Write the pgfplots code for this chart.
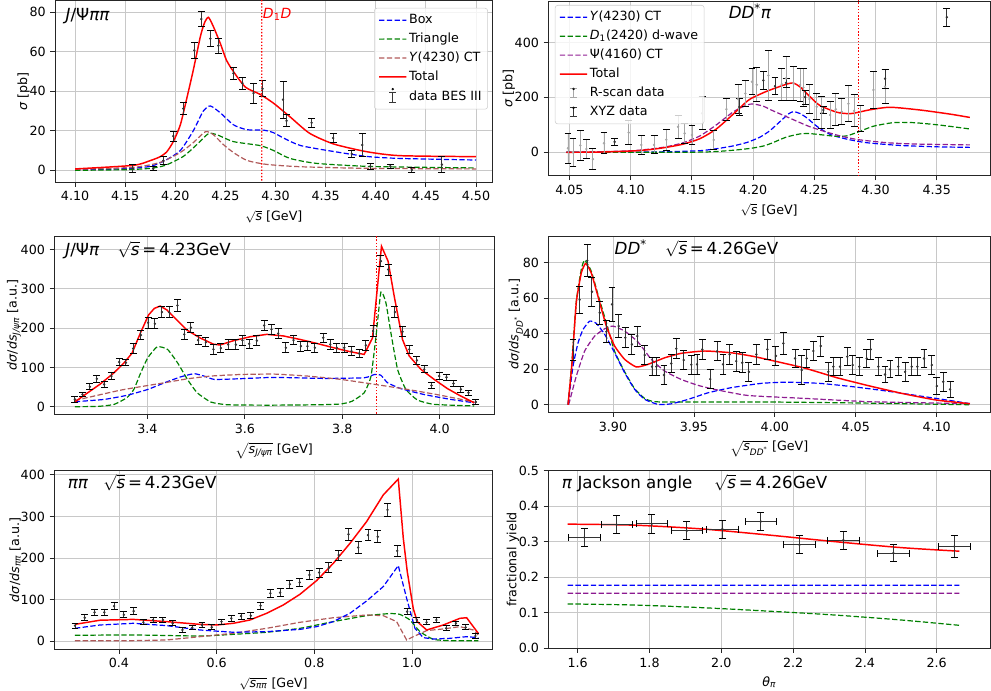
\documentclass[border=0pt]{standalone}
\usepackage{fontspec}
\setmainfont{DejaVu Sans}
\usepackage{pgfplots}
\pgfplotsset{compat=1.18}

\definecolor{cblue}{HTML}{0000FF}
\definecolor{cgreen}{HTML}{008000}
\definecolor{cbrown}{HTML}{B05A5A}
\definecolor{cpurple}{HTML}{8E1C92}
\definecolor{cdata}{HTML}{333333}
\definecolor{cgrey}{HTML}{A6A6A6}
\definecolor{cframe}{HTML}{262626}
\definecolor{cgrid}{HTML}{C8C8C8}
% slightly shifted shades for legend images and single reference lines
\definecolor{lblue}{HTML}{0303FE}
\definecolor{lgreen}{HTML}{038203}
\definecolor{lbrown}{HTML}{B25C5C}
\definecolor{lpurple}{HTML}{901E94}
\definecolor{lred}{HTML}{FE0303}
\definecolor{ldata}{HTML}{363636}
\definecolor{lgrey}{HTML}{A8A8A8}
\definecolor{vred}{HTML}{FD0101}
\definecolor{hblue}{HTML}{0505FC}
\definecolor{hpurple}{HTML}{8C1A90}

\newcommand{\tf}{\fontsize{9.5}{11}\selectfont}
\newcommand{\ttl}{\fontsize{12.5}{14}\selectfont}

\pgfplotsset{
  panel/.style={
    scale only axis, anchor=south west,
    axis line style={draw=cframe, line width=0.6pt},
    tick align=outside, tick pos=left,
    major tick length=3.5pt, tick style={draw=cframe, line width=0.6pt},
    grid=major, major grid style={draw=cgrid, line width=0.6pt},
    tick label style={font=\tf},
    label style={font=\tf},
    ylabel shift=-7pt,
    legend cell align=left,
    legend style={font=\tf, draw=black!20, rounded corners=2pt, fill=white,
      fill opacity=0.8, text opacity=1,
      nodes={text height=7pt, text depth=2pt, inner sep=1.5pt},
      row sep=2.2pt, inner xsep=3pt, inner ysep=3pt},
    legend image code/.code={\draw[##1] (0cm,0cm) -- (0.36cm,0.02pt) -- (0.72cm,0cm);},
  },
  cdash/.style={dash pattern=on 4pt off 1.8pt, line width=0.9pt},
  ctot/.style={draw=red, line width=1.1pt},
  dleg/.style={legend image code/.code={\draw[draw=#1, line width=0.7pt] (0.36cm,-0.13cm) -- (0.36cm,0.13cm) (0.27cm,-0.13cm) -- (0.45cm,-0.13cm) (0.27cm,0.13cm) -- (0.45cm,0.13cm); \fill[fill=#1] (0.36cm,0) circle (0.7pt);}},
  edat/.style={only marks, mark=*, mark size=0.7pt, draw=#1, fill=#1,
    error bars/.cd, y dir=both, y explicit,
    error bar style={line width=0.7pt},
    error mark options={rotate=90, line width=0.7pt, mark size=2.6pt}},
  vthr/.style={draw=#1, line width=0.9pt, dash pattern=on 1pt off 1.4pt, forget plot},
}

\begin{document}
\begin{tikzpicture}
\useasboundingbox (0,0) rectangle (743.25pt,518.25pt);

% ---------------- top left: J/psi pi pi
\begin{axis}[panel, at={(41.25pt,381.75pt)}, width=328.3pt, height=136pt,
  xmin=4.080, xmax=4.5167, ymin=-5.9, ymax=85.7,
  xtick={4.10,4.15,4.20,4.25,4.30,4.35,4.40,4.45,4.50},
  xticklabels={4.10,4.15,4.20,4.25,4.30,4.35,4.40,4.45,4.50},
  ytick={0,20,40,60,80}, yticklabels={0,20,40,60,80},
  xlabel={$\sqrt{\mbox{\itshape s}}$ [GeV]}, ylabel={\textit{σ} [pb]},
  legend style={at={(0.989,0.96)}, anchor=north east}]
\addplot[forget plot, draw=cblue, cdash, smooth, tension=0.4] coordinates {(4.10,0.2) (4.15,0.8) (4.175,2) (4.19,5) (4.205,10) (4.218,20) (4.228,30) (4.235,32.5) (4.245,29) (4.258,23) (4.2715,20.5) (4.288,20.3) (4.298,19) (4.308,16.3) (4.325,12.5) (4.358,9.5) (4.391,7) (4.424,6) (4.50,5.2)};
\addplot[forget plot, draw=cgreen, cdash, smooth, tension=0.4] coordinates {(4.10,0) (4.15,0.3) (4.175,1) (4.19,2.5) (4.208,7) (4.2215,13) (4.233,18.5) (4.2415,18) (4.258,14.5) (4.2845,12.5) (4.298,10) (4.3145,6) (4.341,3.5) (4.391,2) (4.45,1.5) (4.50,1.2)};
\addplot[forget plot, draw=cbrown, cdash, smooth, tension=0.4] coordinates {(4.10,0.5) (4.158,1.5) (4.185,4) (4.205,9) (4.218,14) (4.23,19.5) (4.238,18) (4.248,13) (4.258,9) (4.2715,5) (4.291,3) (4.325,1.8) (4.391,1.0) (4.50,0.7)};
\addplot[forget plot, ctot, smooth, tension=0.4] coordinates {(4.10,0.7) (4.158,2.5) (4.175,4.9) (4.185,6.9) (4.1916,9.4) (4.198,14.5) (4.205,22.9) (4.2115,36.4) (4.218,50.7) (4.225,67.5) (4.229,74.3) (4.233,77.3) (4.238,72.6) (4.245,64) (4.251,55.7) (4.258,49.9) (4.27,42) (4.2845,38.4) (4.298,33.9) (4.3145,27) (4.334,18.7) (4.358,13.3) (4.391,9.4) (4.424,7.4) (4.50,6.9)};
\addplot[forget plot, edat=cdata] coordinates {
(4.1575,1) +- (0,2) (4.178,0.8) +- (0,1) (4.188,4.9) +- (0,2) (4.198,17.3) +- (0,2.5)
(4.208,31.2) +- (0,3) (4.219,60.6) +- (0,4) (4.226,76.4) +- (0,3.8) (4.235,66.5) +- (0,4)
(4.243,63) +- (0,3.8) (4.258,49) +- (0,2.9) (4.267,44) +- (0,3) (4.278,39) +- (0,5)
(4.287,41.2) +- (0,4) (4.3075,35.7) +- (0,9.4) (4.311,25) +- (0,3) (4.336,24) +- (0,2.3)
(4.3575,16.3) +- (0,2.4) (4.376,8.3) +- (0,1.7) (4.3865,12.8) +- (0,5.9) (4.3945,2) +- (0,1.5)
(4.4145,2.1) +- (0,1.1) (4.436,0.2) +- (0,1.3) (4.466,2.9) +- (0,4)};
\addplot[vthr=vred] coordinates {(4.2863,-10) (4.28632,45) (4.2863,100)};
\addlegendimage{draw=lblue, cdash}\addlegendentry{Box}
\addlegendimage{draw=lgreen, cdash}\addlegendentry{Triangle}
\addlegendimage{draw=lbrown, cdash}\addlegendentry{\textit{Y}(4230) CT}
\addlegendimage{draw=lred, line width=1.1pt}\addlegendentry{Total}
\addlegendimage{dleg=ldata}\addlegendentry{data BES III}
\node[anchor=base west, font=\ttl] at (rel axis cs:0.0137,0.89) {\textit{J}/Ψ\textit{ππ}};
\node[anchor=base west, font=\fontsize{10.5}{12}\selectfont, text=red, inner sep=0pt] at (rel axis cs:0.4745,0.903) {\textit{D}\textsubscript{1}\textit{D}};
\end{axis}

% ---------------- top right: D D* pi
\begin{axis}[panel, at={(411.2pt,386.5pt)}, width=331.3pt, height=131pt,
  xmin=4.0327, xmax=4.3935, ymin=-85, ymax=551,
  xtick={4.05,4.10,4.15,4.20,4.25,4.30,4.35},
  xticklabels={4.05,4.10,4.15,4.20,4.25,4.30,4.35},
  ytick={0,200,400}, yticklabels={0,200,400},
  xlabel={$\sqrt{\mbox{\itshape s}}$ [GeV]}, ylabel={\textit{σ} [pb]},
  legend style={at={(0.015,0.977)}, anchor=north west}]
\addplot[vthr=red] coordinates {(4.2863,-100) (4.2863,600)};
\addplot[forget plot, draw=cblue, cdash, smooth, tension=0.4] coordinates {(4.0475,0) (4.10,0.5) (4.13,2) (4.1567,6) (4.17,13) (4.1834,23) (4.195,36) (4.2055,55) (4.2135,78) (4.222,112) (4.229,140) (4.2330,148) (4.2384,141) (4.2440,125) (4.252,95) (4.263,65) (4.2765,48) (4.2928,35) (4.32,25) (4.35,20) (4.377,18)};
\addplot[forget plot, draw=cgreen, cdash, smooth, tension=0.4] coordinates {(4.0475,0) (4.15,0.5) (4.17,3) (4.185,8) (4.199,15) (4.2084,23) (4.2150,33) (4.2269,55) (4.2384,67) (4.2465,68) (4.2574,63) (4.2683,58) (4.2765,60) (4.2846,72) (4.2983,95) (4.3146,108) (4.3310,108) (4.3528,99) (4.377,85)};
\addplot[forget plot, draw=cpurple, cdash, smooth, tension=0.4] coordinates {(4.0475,0) (4.075,2) (4.102,6) (4.116,12) (4.129,20) (4.143,35) (4.1567,60) (4.170,100) (4.184,148) (4.1948,172) (4.200,176) (4.2084,168) (4.2138,156) (4.2302,124) (4.2465,93) (4.2683,63) (4.2846,47) (4.3092,35) (4.3337,30) (4.377,27)};
\addplot[forget plot, ctot, smooth, tension=0.4] coordinates {(4.0475,0) (4.075,1) (4.102,5) (4.1158,10) (4.129,18) (4.143,30) (4.1567,50) (4.170,85) (4.184,140) (4.1948,185) (4.200,200) (4.211,222) (4.222,240) (4.2288,250) (4.2330,252) (4.2384,238) (4.2470,200) (4.2547,170) (4.2683,146) (4.2765,141) (4.2820,142) (4.2956,155) (4.312,164) (4.3365,154) (4.361,139) (4.377,127)};
\addplot[forget plot, edat=cgrey] coordinates {
(4.0488,15) +- (0,55) (4.0529,0) +- (0,52) (4.0589,25) +- (0,55) (4.0638,12) +- (0,35)
(4.0692,-25) +- (0,38) (4.0782,33) +- (0,38) (4.0984,72) +- (0,45) (4.1087,27) +- (0,36)
(4.1191,27) +- (0,33) (4.1291,46) +- (0,38) (4.1387,93) +- (0,42) (4.1441,69) +- (0,36)
(4.1501,63) +- (0,36) (4.1583,142) +- (0,60) (4.1678,45) +- (0,36) (4.1782,157) +- (0,40)
(4.1877,194) +- (0,52) (4.1937,214) +- (0,48) (4.1991,257) +- (0,48) (4.2030,246) +- (0,62)
(4.2125,280) +- (0,90) (4.2234,248) +- (0,58) (4.2269,269) +- (0,79) (4.2329,251) +- (0,61)
(4.2384,245) +- (0,61) (4.2411,236) +- (0,70) (4.2460,194) +- (0,52) (4.2520,166) +- (0,48)
(4.2561,145) +- (0,58) (4.2629,136) +- (0,48) (4.2675,157) +- (0,58) (4.2724,148) +- (0,48)
(4.2779,177) +- (0,65) (4.2825,151) +- (0,58) (4.2874,124) +- (0,48) (4.2983,227) +- (0,67)
(4.3078,239) +- (0,61)};
\addplot[forget plot, edat=cdata] coordinates {
(4.0869,38) +- (0,13) (4.1888,165) +- (0,30) (4.2084,262) +- (0,32) (4.2179,241) +- (0,32)
(4.2269,253) +- (0,16) (4.2425,201) +- (0,25) (4.2574,154) +- (0,12) (4.3078,268) +- (0,35)
(4.3582,492) +- (0,32)};
\addlegendimage{draw=lblue, cdash}\addlegendentry{\textit{Y}(4230) CT}
\addlegendimage{draw=lgreen, cdash}\addlegendentry{\textit{D}\textsubscript{1}(2420) d-wave}
\addlegendimage{draw=lpurple, cdash}\addlegendentry{Ψ(4160) CT}
\addlegendimage{draw=lred, line width=1.1pt}\addlegendentry{Total}
\addlegendimage{dleg=lgrey}\addlegendentry{R-scan data}
\addlegendimage{dleg=ldata}\addlegendentry{XYZ data}
\node[anchor=base west, font=\ttl] at (rel axis cs:0.398,0.901) {\textit{DD}\textsuperscript{*}\textit{π}};
\end{axis}

% ---------------- middle left: J/psi pi
\begin{axis}[panel, at={(40.7pt,207.5pt)}, width=329.8pt, height=133.7pt,
  xmin=3.2086, xmax=4.1115, ymin=-19.3, ymax=434,
  xtick={3.4,3.6,3.8,4.0}, xticklabels={3.4,3.6,3.8,4.0},
  ytick={0,100,200,300,400}, yticklabels={0,100,200,300,400},
  xlabel={$\sqrt{\mbox{\itshape s\textsubscript{J/ψπ}}}$ [GeV]},
  ylabel={\textit{dσ}/\textit{ds}\textsubscript{\itshape J/ψπ} [a.u.]}]
\addplot[vthr=red] coordinates {(3.8706,-50) (3.8706,500)};
\addplot[draw=cgreen, cdash, smooth, tension=0.3] coordinates {(3.2509,0) (3.30,1) (3.3316,6) (3.3577,23) (3.372,44) (3.386,86) (3.4007,124.6) (3.42,152.5) (3.441,146) (3.4616,112) (3.482,69.5) (3.502,35.6) (3.53,12) (3.5644,5) (3.65,4) (3.75,5) (3.797,7) (3.82,14) (3.845,35.6) (3.859,78) (3.8693,180) (3.8793,291.5) (3.8896,264) (3.8998,188) (3.9135,95) (3.9306,44) (3.9545,17) (3.9887,6) (4.0709,2)};
\addplot[draw=cblue, cdash, smooth, tension=0.3] coordinates {(3.2509,12.7) (3.311,18.6) (3.3577,29) (3.4007,44) (3.435,61) (3.4684,76) (3.4958,84) (3.516,78) (3.5371,69.5) (3.585,71) (3.66,74.6) (3.7628,72) (3.845,73.7) (3.866,82) (3.8793,80) (3.893,61) (3.9204,46) (3.9682,31) (4.023,18.6) (4.0709,10)};
\addplot[draw=cbrown, cdash, smooth, tension=0.3] coordinates {(3.2509,16) (3.297,29) (3.344,42) (3.386,51) (3.435,61) (3.482,71) (3.53,78) (3.5918,82) (3.66,83) (3.7285,78) (3.797,69.5) (3.866,57) (3.934,44) (4.0025,29) (4.0709,12)};
\addplot[ctot] coordinates {(3.2515,12.7) (3.2756,34) (3.3029,57.6) (3.330,85) (3.3507,110) (3.368,135.6) (3.385,186) (3.402,233) (3.414,250) (3.426,256) (3.44,246) (3.4534,229) (3.481,195) (3.508,175) (3.5355,159) (3.549,157) (3.5766,168) (3.611,178) (3.645,184) (3.679,180) (3.7136,171) (3.7478,161) (3.782,150) (3.816,140) (3.845,133) (3.862,175) (3.871,290) (3.8805,408) (3.894,370) (3.9066,281) (3.9236,171) (3.9374,129) (3.9614,95) (3.9887,69.5) (4.016,46) (4.0435,27) (4.0709,10)};
\addplot[edat=cdata] coordinates {
(3.2509,18.6) +- (0,6.8) (3.2665,31.4) +- (0,6) (3.2817,50.8) +- (0,8) (3.296,71) +- (0,9)
(3.311,56.8) +- (0,8) (3.326,78) +- (0,9) (3.342,113.6) +- (0,9) (3.3557,112) +- (0,8)
(3.3706,148) +- (0,12) (3.3864,182) +- (0,12) (3.4014,213.6) +- (0,14) (3.4152,211) +- (0,13)
(3.4296,240.7) +- (0,14) (3.4446,240) +- (0,14) (3.4616,257.6) +- (0,15) (3.4754,184) +- (0,12)
(3.4891,201) +- (0,13) (3.504,169.5) +- (0,12) (3.52,164) +- (0,11) (3.5355,146) +- (0,13)
(3.5507,149) +- (0,12) (3.5657,158) +- (0,12) (3.5815,158) +- (0,12) (3.595,169) +- (0,12)
(3.6088,160) +- (0,12) (3.6246,168) +- (0,13) (3.6396,206.8) +- (0,13) (3.6546,196.6) +- (0,12)
(3.6684,186) +- (0,12) (3.6842,150) +- (0,13) (3.6998,169.5) +- (0,12) (3.715,154) +- (0,13)
(3.7285,154) +- (0,12) (3.7437,150) +- (0,12) (3.7608,175.4) +- (0,12) (3.7752,158.5) +- (0,12)
(3.7889,150) +- (0,12) (3.804,150) +- (0,12) (3.8189,141.5) +- (0,12) (3.8347,135.6) +- (0,11)
(3.8485,156) +- (0,12) (3.8634,192.4) +- (0,14) (3.8793,370) +- (0,14) (3.8943,349) +- (0,14)
(3.908,240.7) +- (0,14) (3.9236,190.7) +- (0,13) (3.9374,145.8) +- (0,11) (3.9532,117.8) +- (0,10)
(3.9682,95) +- (0,9) (3.9832,54) +- (0,8) (3.999,78) +- (0,8) (4.014,75) +- (0,8)
(4.0283,59) +- (0,8) (4.0435,44) +- (0,7) (4.0591,35.6) +- (0,6) (4.0743,12) +- (0,6)};
\node[anchor=base west, font=\ttl] at (rel axis cs:0.0146,0.892) {\textit{J}/Ψ\textit{π}\hspace{1.1em}$\sqrt{\mbox{\itshape s}}$\,=\,4.23GeV};
\end{axis}

% ---------------- middle right: D D*
\begin{axis}[panel, at={(411.2pt,209pt)}, width=331.3pt, height=132.2pt,
  xmin=3.860, xmax=4.133, ymin=-4.27, ymax=94.8,
  xtick={3.90,3.95,4.00,4.05,4.10}, xticklabels={3.90,3.95,4.00,4.05,4.10},
  ytick={0,20,40,60,80}, yticklabels={0,20,40,60,80},
  xlabel={$\sqrt{\mbox{\itshape s\textsubscript{DD\textsuperscript{*}}}}$ [GeV]},
  ylabel={\textit{dσ}/\textit{ds}\textsubscript{\itshape DD\textsuperscript{*}} [a.u.]}]
\addplot[draw=cgreen, cdash, smooth, tension=0.3] coordinates {(3.8722,0) (3.8747,25) (3.8773,58) (3.8804,76) (3.8825,81.3) (3.8866,75) (3.8907,62) (3.8959,46) (3.901,30) (3.9072,18.5) (3.9134,9) (3.9196,3.5) (3.925,1.8) (3.935,1.5) (4.00,1.5) (4.05,1.0) (4.0850,0.5) (4.1206,0)};
\addplot[draw=cblue, cdash, smooth, tension=0.3] coordinates {(3.8722,0) (3.8753,21.7) (3.8784,34.8) (3.8815,42.3) (3.8856,47) (3.8897,45.7) (3.8949,39.5) (3.901,29.2) (3.9072,18) (3.9134,8.6) (3.9196,3) (3.9278,0.2) (3.936,0.5) (3.9464,3) (3.9587,6.7) (3.9731,9.6) (3.9917,12) (4.0073,12.7) (4.0279,12) (4.0485,10.1) (4.0691,7.7) (4.0897,4.9) (4.1103,2.1) (4.1206,0.6)};
\addplot[draw=cpurple, cdash, smooth, tension=0.3] coordinates {(3.8726,0) (3.8773,16) (3.8825,30.2) (3.8887,38.6) (3.8949,42.7) (3.90,44.2) (3.9072,41.4) (3.9155,35.2) (3.9237,25.5) (3.932,18.9) (3.9422,14.2) (3.9525,10.9) (3.9629,8.6) (3.9834,5.2) (4.0176,3.6) (4.0588,1.7) (4.1206,0.6)};
\addplot[ctot, smooth, tension=0.3] coordinates {(3.8722,0) (3.8747,23.6) (3.8773,57.3) (3.8804,74) (3.8831,79.4) (3.8866,74) (3.8907,61) (3.8959,44.2) (3.901,33) (3.9072,25.5) (3.9144,21.2) (3.9216,22.7) (3.932,26.4) (3.9422,28.9) (3.9567,30.2) (3.9731,29.2) (3.9876,27) (4.0176,20.8) (4.0383,15.2) (4.0588,10.5) (4.0794,6.2) (4.1,2.6) (4.1206,0.6)};
\addplot[edat=cdata] coordinates {
(3.8753,30.7) +- (0,6.1) (3.8794,59) +- (0,7.7) (3.8841,81) +- (0,9.1) (3.887,63.5) +- (0,8)
(3.8918,51.7) +- (0,6.6) (3.8959,41) +- (0,6.1) (3.8994,56.4) +- (0,9.4) (3.9035,44.2) +- (0,6.6)
(3.9076,37.7) +- (0,5.6) (3.9117,33.9) +- (0,5.6) (3.915,38.6) +- (0,5.6) (3.9196,27.9) +- (0,5.2)
(3.9241,21.4) +- (0,5.2) (3.9268,21.4) +- (0,5.2) (3.9315,16.7) +- (0,5.2) (3.936,23.2) +- (0,5.2)
(3.9391,31.5) +- (0,5.6) (3.9437,25.1) +- (0,5.2) (3.9484,22.5) +- (0,5.3) (3.9519,22.7) +- (0,5.6)
(3.9552,31.1) +- (0,5.6) (3.9601,14.4) +- (0,5.4) (3.9643,30) +- (0,5.3) (3.968,22.7) +- (0,5.6)
(3.9721,28.3) +- (0,5.6) (3.9762,24.5) +- (0,5.6) (3.9799,23.6) +- (0,5.6) (3.984,18.5) +- (0,5.2)
(3.9886,28.3) +- (0,5.6) (3.9954,31.1) +- (0,5.6) (4.0007,27.4) +- (0,5.6) (4.0053,34.5) +- (0,6.1)
(4.0125,26) +- (0,5.2) (4.0166,19.5) +- (0,8) (4.0197,26) +- (0,5.2) (4.0238,30.2) +- (0,5.6)
(4.0284,33) +- (0,5.6) (4.0331,18.5) +- (0,5.2) (4.0362,21.4) +- (0,5.2) (4.0403,21.4) +- (0,5.2)
(4.0448,27) +- (0,5.2) (4.0481,22.3) +- (0,5.2) (4.0522,21.4) +- (0,5.2) (4.0568,26) +- (0,5.2)
(4.0593,31.1) +- (0,5.6) (4.064,21.4) +- (0,5.2) (4.0681,17) +- (0,4.7) (4.0712,19.9) +- (0,4.7)
(4.0763,21.4) +- (0,5.2) (4.0805,18.5) +- (0,5.2) (4.0846,21.4) +- (0,5.2) (4.0881,21.4) +- (0,5.2)
(4.0922,26) +- (0,5.2) (4.097,22.3) +- (0,5.2) (4.1001,10.5) +- (0,4.7) (4.1041,12.9) +- (0,5.2)
(4.1083,8.6) +- (0,4.7)};
\node[anchor=base west, font=\ttl] at (rel axis cs:0.1397,0.896) {\textit{DD}\textsuperscript{*}\hspace{1.1em}$\sqrt{\mbox{\itshape s}}$\,=\,4.26GeV};
\end{axis}

% ---------------- bottom left: pi pi
\begin{axis}[panel, at={(40.7pt,31.5pt)}, width=328.8pt, height=133.7pt,
  xmin=0.2675, xmax=1.1653, ymin=-19.3, ymax=410,
  xtick={0.4,0.6,0.8,1.0}, xticklabels={0.4,0.6,0.8,1.0},
  ytick={0,100,200,300,400}, yticklabels={0,100,200,300,400},
  xlabel={$\sqrt{\mbox{\itshape s\textsubscript{ππ}}}$ [GeV]},
  ylabel={\textit{dσ}/\textit{ds}\textsubscript{\itshape ππ} [a.u.]}]
\addplot[draw=cgreen, cdash, smooth, tension=0.3] coordinates {(0.3099,13.7) (0.4293,14.5) (0.5658,12) (0.6341,16) (0.7024,21) (0.7706,30.5) (0.8389,46.6) (0.9072,61) (0.955,66) (0.9754,64) (0.9959,50.6) (1.0164,22.5) (1.0437,4) (1.0778,0.8) (1.1358,0.8)};
\addplot[draw=cbrown, cdash] coordinates {(0.3099,0.8) (0.4293,0.8) (0.4976,2.4) (0.5658,10.4) (0.6341,18.5) (0.7024,30.5) (0.7706,45) (0.8389,56) (0.9072,62.6) (0.9413,61) (0.9686,46.6) (0.9891,2.4) (1.0027,10.4) (1.0301,25) (1.0641,29) (1.0983,34.5) (1.1255,26.5) (1.1358,14.5)};
\addplot[draw=cblue, cdash] coordinates {(0.3099,30.5) (0.3611,38.5) (0.4293,42.6) (0.4976,37) (0.5658,26.5) (0.6341,21) (0.7024,22.5) (0.7706,28) (0.8048,34.5) (0.8389,46.6) (0.873,66.7) (0.9072,96.4) (0.9413,131) (0.972,181.5) (0.9891,102.8) (1.0061,30.5) (1.0232,8) (1.0437,4.8) (1.0778,6.4) (1.112,10.4) (1.1358,8)};
\addplot[ctot] coordinates {(0.3099,40) (0.3611,50) (0.4293,52) (0.4976,46.6) (0.5658,40) (0.6,38.5) (0.6341,42.6) (0.6683,50.6) (0.7024,66.7) (0.7365,86.7) (0.7706,112.4) (0.8048,145.4) (0.8389,187) (0.873,235) (0.9072,287.6) (0.9413,351.8) (0.972,390) (0.9823,247) (0.9904,167) (1.0027,78) (1.0109,46.6) (1.0301,26.5) (1.0641,38.5) (1.0983,54.6) (1.112,56) (1.1358,18.5)};
\addplot[edat=cdata] coordinates {
(0.31,37) +- (0,6) (0.33,56) +- (0,7) (0.35,69) +- (0,8) (0.37,69) +- (0,8)
(0.39,84) +- (0,9) (0.41,63) +- (0,7) (0.43,72) +- (0,8) (0.45,45) +- (0,6)
(0.47,50.6) +- (0,6) (0.49,50.6) +- (0,6) (0.51,42.6) +- (0,6) (0.53,26.5) +- (0,6)
(0.55,32) +- (0,5) (0.57,38.5) +- (0,6) (0.59,33) +- (0,6) (0.61,46.6) +- (0,6)
(0.63,54.6) +- (0,6.5) (0.65,60) +- (0,7) (0.67,61) +- (0,7) (0.69,85) +- (0,8)
(0.71,115) +- (0,10) (0.73,116.5) +- (0,9) (0.75,136.5) +- (0,9) (0.77,141) +- (0,10)
(0.79,159) +- (0,10) (0.81,164.7) +- (0,11) (0.83,176.7) +- (0,12) (0.85,207) +- (0,12)
(0.87,257) +- (0,14) (0.89,225) +- (0,14) (0.91,255) +- (0,14) (0.93,251) +- (0,14)
(0.95,315.7) +- (0,16) (0.97,217) +- (0,13) (0.99,70.7) +- (0,8) (1.01,50.6) +- (0,6)
(1.03,45) +- (0,6) (1.05,50.6) +- (0,6) (1.07,30.5) +- (0,6) (1.09,42.6) +- (0,5.5)
(1.11,33) +- (0,6) (1.13,12) +- (0,5)};
\node[anchor=base west, font=\ttl] at (rel axis cs:0.0205,0.901) {\textit{ππ}\hspace{0.9em}$\sqrt{\mbox{\itshape s}}$\,=\,4.23GeV};
\end{axis}

% ---------------- bottom right: Jackson angle
\begin{axis}[panel, at={(411.2pt,32pt)}, width=331.3pt, height=133.2pt,
  xmin=1.518, xmax=2.7485, ymin=0, ymax=0.5,
  xtick={1.6,1.8,2.0,2.2,2.4,2.6}, xticklabels={1.6,1.8,2.0,2.2,2.4,2.6},
  ytick={0,0.1,0.2,0.3,0.4,0.5}, yticklabels={0.0,0.1,0.2,0.3,0.4,0.5},
  xlabel={\textit{θ}\textsubscript{\itshape π}}, ylabel={fractional yield}]
\addplot[draw=cgreen, cdash, smooth] coordinates {(1.5721,0.125) (1.755,0.122) (1.9408,0.1147) (2.1265,0.105) (2.3122,0.094) (2.4979,0.08) (2.663,0.0648)};
\addplot[ctot, smooth] coordinates {(1.5721,0.3496) (1.755,0.3468) (1.9408,0.3365) (2.1265,0.3195) (2.3122,0.3008) (2.4979,0.2838) (2.663,0.2735)};
\addplot[draw=hblue, cdash] coordinates {(1.5721,0.1776) (2.1,0.17765) (2.663,0.1776)};
\addplot[draw=hpurple, cdash] coordinates {(1.5721,0.155) (2.1,0.15505) (2.663,0.155)};
\addplot[edat=cdata, x dir=both, x explicit] coordinates {
(1.6186,0.312) +- (0.0436,0.025) (1.7086,0.348) +- (0.0436,0.026) (1.8061,0.3506) +- (0.0436,0.027)
(1.9036,0.331) +- (0.0436,0.025) (2.003,0.3355) +- (0.0436,0.025) (2.1098,0.357) +- (0.0436,0.026)
(2.2175,0.2914) +- (0.0436,0.025) (2.340,0.3045) +- (0.0436,0.025) (2.4793,0.268) +- (0.0436,0.0235)
(2.6492,0.2867) +- (0.0436,0.032)};
\node[anchor=base west, font=\ttl] at (rel axis cs:0.0204,0.901) {\textit{π} Jackson angle\hspace{1.3em}$\sqrt{\mbox{\itshape s}}$\,=\,4.26GeV};
\end{axis}
\end{tikzpicture}
\end{document}
